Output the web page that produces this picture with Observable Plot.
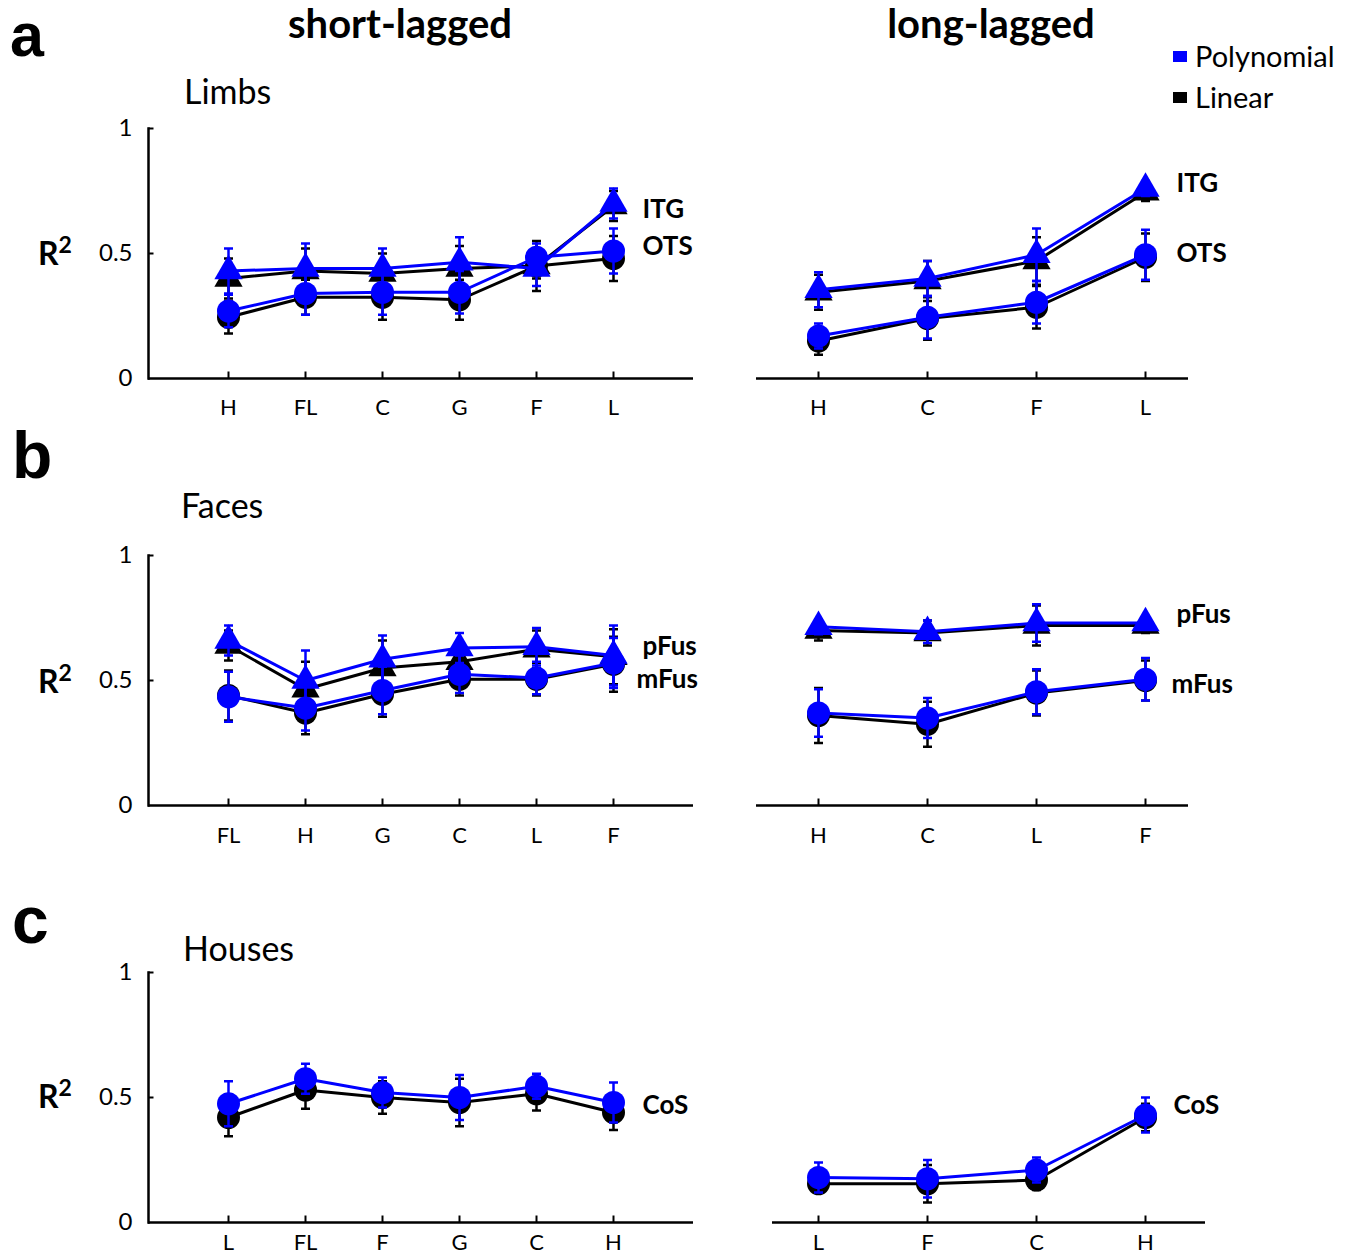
<!DOCTYPE html>
<html><head><meta charset="utf-8">
<script src="https://cdn.jsdelivr.net/npm/d3@7"></script>
<script src="https://cdn.jsdelivr.net/npm/@observablehq/plot@0.6"></script>
<style>
body{margin:0;background:#fff;}
#root{position:relative;width:1348px;height:1257px;overflow:hidden;font-family:Lato,sans-serif;background:#fff;}
#root svg{position:absolute;}
</style></head><body><div id="root"></div>
<script>
// ---------- data ----------
const limbsShortCats = ["H","FL","C","G","F","L"];
const limbsShortITGPoly = [0.43, 0.44, 0.44, 0.465, 0.44, 0.70];
const limbsShortITGPolyErr = [0.09, 0.10, 0.08, 0.10, 0.07, 0.06];
const limbsShortITGLin = [0.40, 0.43, 0.42, 0.44, 0.45, 0.69];
const limbsShortITGLinErr = [0.08, 0.09, 0.08, 0.09, 0.10, 0.06];
const limbsShortOTSPoly = [0.27, 0.34, 0.345, 0.345, 0.485, 0.51];
const limbsShortOTSPolyErr = [0.065, 0.085, 0.09, 0.085, 0.055, 0.09];
const limbsShortOTSLin = [0.245, 0.325, 0.325, 0.315, 0.45, 0.48];
const limbsShortOTSLinErr = [0.065, 0.07, 0.09, 0.08, 0.05, 0.09];

const limbsLongCats = ["H","C","F","L"];
const limbsLongITGPoly = [0.355, 0.40, 0.495, 0.76];
const limbsLongITGPolyErr = [0.07, 0.07, 0.105, 0.03];
const limbsLongITGLin = [0.345, 0.39, 0.47, 0.745];
const limbsLongITGLinErr = [0.07, 0.08, 0.095, 0.035];
const limbsLongOTSPoly = [0.17, 0.245, 0.305, 0.495];
const limbsLongOTSPolyErr = [0.05, 0.085, 0.085, 0.10];
const limbsLongOTSLin = [0.15, 0.24, 0.285, 0.485];
const limbsLongOTSLinErr = [0.055, 0.085, 0.085, 0.095];

const facesShortCats = ["FL","H","G","C","L","F"];
const facesShortPFusPoly = [0.66, 0.50, 0.585, 0.63, 0.635, 0.60];
const facesShortPFusPolyErr = [0.06, 0.12, 0.095, 0.06, 0.075, 0.12];
const facesShortPFusLin = [0.64, 0.465, 0.55, 0.575, 0.625, 0.595];
const facesShortPFusLinErr = [0.06, 0.11, 0.11, 0.05, 0.075, 0.11];
const facesShortMFusPoly = [0.435, 0.39, 0.46, 0.525, 0.51, 0.57];
const facesShortMFusPolyErr = [0.10, 0.09, 0.095, 0.075, 0.065, 0.10];
const facesShortMFusLin = [0.44, 0.37, 0.445, 0.505, 0.505, 0.565];
const facesShortMFusLinErr = [0.10, 0.085, 0.09, 0.065, 0.065, 0.11];

const facesLongCats = ["H","C","L","F"];
const facesLongPFusPoly = [0.715, 0.695, 0.73, 0.73];
const facesLongPFusPolyErr = [0.03, 0.045, 0.075, 0.025];
const facesLongPFusLin = [0.70, 0.69, 0.72, 0.72];
const facesLongPFusLinErr = [0.04, 0.05, 0.08, 0.03];
const facesLongMFusPoly = [0.37, 0.35, 0.455, 0.505];
const facesLongMFusPolyErr = [0.095, 0.08, 0.09, 0.085];
const facesLongMFusLin = [0.36, 0.325, 0.45, 0.50];
const facesLongMFusLinErr = [0.11, 0.09, 0.09, 0.08];

const housesShortCats = ["L","FL","F","G","C","H"];
const housesShortCoSPoly = [0.475, 0.575, 0.52, 0.50, 0.545, 0.48];
const housesShortCoSPolyErr = [0.09, 0.06, 0.06, 0.09, 0.05, 0.08];
const housesShortCoSLin = [0.42, 0.53, 0.50, 0.48, 0.515, 0.44];
const housesShortCoSLinErr = [0.075, 0.075, 0.065, 0.095, 0.067, 0.07];

const housesLongCats = ["L","F","C","H"];
const housesLongCoSPoly = [0.18, 0.175, 0.21, 0.43];
const housesLongCoSPolyErr = [0.06, 0.075, 0.05, 0.07];
const housesLongCoSLin = [0.155, 0.155, 0.17, 0.42];
const housesLongCoSLinErr = [0.03, 0.075, 0.04, 0.055];

const yTicks = [0, 0.5, 1];
const modelNames = ["Polynomial", "Linear"];
const columnTitles = ["short-lagged", "long-lagged"];
const panelLetters = ["a", "b", "c"];
const categoryTitles = ["Limbs", "Faces", "Houses"];

// ---------- styling ----------
const BLUE = "#0000ff", BLACK = "#000000";
const FONT = "Lato, sans-serif";
const root = document.getElementById("root");

const capSym = {draw(ctx, size){ const r = Math.sqrt(size/Math.PI); ctx.moveTo(-r,0); ctx.lineTo(r,0); }};
const upSym = {draw(ctx, size){ const r = Math.sqrt(size/Math.PI); ctx.moveTo(0,0); ctx.lineTo(0,-r); }};
const rightSym = {draw(ctx, size){ const r = Math.sqrt(size/Math.PI); ctx.moveTo(0,0); ctx.lineTo(r,0); }};

function rows(cats, vals, errs){ return cats.map((c,i)=>({cat:c, v:vals[i], e:errs[i]})); }

function seriesMarks(data, color, shape){
  const r = shape === "triangle" ? 10.5 : 11.5;
  return [
    Plot.ruleX(data, {x:"cat", y1:d=>d.v-d.e, y2:d=>d.v+d.e, stroke:color, strokeWidth:2.5}),
    Plot.dot(data, {x:"cat", y:d=>d.v+d.e, symbol:capSym, r:4.5, stroke:color, strokeWidth:2.5, fill:"none"}),
    Plot.dot(data, {x:"cat", y:d=>d.v-d.e, symbol:capSym, r:4.5, stroke:color, strokeWidth:2.5, fill:"none"}),
    Plot.line(data, {x:"cat", y:"v", stroke:color, strokeWidth:3}),
    Plot.dot(data, {x:"cat", y:"v", symbol:shape, r, fill:color, stroke:"none"})
  ];
}

function panel(cfg){
  const {cats, regions, left, top, width, height, mL, mR, mB, inL, inR, pad, yAxis, labelPad, labelDx} = cfg;
  const marks = [];
  for (const reg of regions) marks.push(...seriesMarks(rows(cats, reg.lin, reg.linErr), BLACK, reg.shape));
  for (const reg of regions) marks.push(...seriesMarks(rows(cats, reg.poly, reg.polyErr), BLUE, reg.shape));
  for (const reg of regions) {
    const last = cats.length - 1;
    marks.push(Plot.text([{cat:cats[last], v:reg.poly[last]}], {x:"cat", y:"v", text:()=>reg.name, dx:labelDx + (reg.ldx||0), dy:reg.ldy, textAnchor:"start", fontSize:26, fontWeight:"bold", fill:BLACK}));
  }
  marks.push(Plot.ruleY([0], {stroke:BLACK, strokeWidth:2.5}));
  marks.push(Plot.dot(cats, {x:d=>d, frameAnchor:"bottom", symbol:upSym, r:7, stroke:BLACK, strokeWidth:2}));
  marks.push(Plot.axisX({tickSize:0, tickPadding:labelPad, fontSize:22}));
  if (yAxis) {
    marks.push(Plot.frame({anchor:"left", stroke:BLACK, strokeWidth:2.5}));
    marks.push(Plot.dot([0.5, 1], {y:d=>d, frameAnchor:"left", symbol:rightSym, r:5, stroke:BLACK, strokeWidth:2}));
    marks.push(Plot.axisY({ticks:yTicks, tickSize:0, tickPadding:16, fontSize:24, tickFormat:d=>String(d)}));
  }
  const svg = Plot.plot({
    width, height, marginLeft:mL, marginRight:mR, marginTop:20, marginBottom:mB,
    style:{background:"transparent", overflow:"visible", fontFamily:FONT, fontSize:"22px", color:"#000"},
    x:{type:"point", domain:cats, padding:pad, insetLeft:inL, insetRight:inR, label:null},
    y:{domain:[0,1], label:null, axis:null},
    marks
  });
  svg.style.left = left + "px";
  svg.style.top = top + "px";
  root.appendChild(svg);
}

// ---------- text overlay ----------
const ov = d3.select(root).append("svg").attr("width",1348).attr("height",1257).style("left","0px").style("top","0px")
  .attr("font-family", FONT);
[[10,56,61],[12,478,66],[12,943,66]].forEach(([x,y,s],i)=> ov.append("text").attr("x",x).attr("y",y)
  .attr("font-family","'Liberation Sans', Arial, sans-serif").attr("font-size",s).attr("font-weight","bold").text(panelLetters[i]));
[[400,38],[991,38]].forEach(([x,y],i)=> ov.append("text").attr("x",x).attr("y",y).attr("text-anchor","middle").attr("font-size",40).attr("font-weight","bold").text(columnTitles[i]));
[[184,104],[181,518],[183,961]].forEach(([x,y],i)=> ov.append("text").attr("x",x).attr("y",y).attr("font-size",34).text(categoryTitles[i]));
[265,693,1108].forEach(y=>{
  const t = ov.append("text").attr("x",38).attr("y",y).attr("font-size",32).attr("font-weight","bold");
  t.append("tspan").text("R");
  t.append("tspan").attr("dy",-12).attr("font-size",23).text("2");
});
[[BLUE,51,67],[BLACK,92,108]].forEach(([c,ry,ty],i)=>{
  ov.append("rect").attr("x",1173).attr("y",ry).attr("width",14).attr("height",11).attr("fill",c);
  ov.append("text").attr("x",1195).attr("y",ty).attr("font-size",29).text(modelNames[i]);
});

// ---------- panels ----------
const L = {left:0, width:740, mL:148, mR:47, inL:0, inR:0, pad:1, yAxis:true, labelDx:29};
const R = {left:740, width:608, mL:16, mR:160, inL:62, inR:43, pad:0, yAxis:false, labelDx:31};

panel({...L, cats:limbsShortCats, top:108, height:320, mB:50, labelPad:21, regions:[
  {name:"ITG", shape:"triangle", poly:limbsShortITGPoly, polyErr:limbsShortITGPolyErr, lin:limbsShortITGLin, linErr:limbsShortITGLinErr, ldy:6},
  {name:"OTS", shape:"circle", poly:limbsShortOTSPoly, polyErr:limbsShortOTSPolyErr, lin:limbsShortOTSLin, linErr:limbsShortOTSLinErr, ldy:-4}]});
panel({...R, cats:limbsLongCats, top:108, height:320, mB:50, labelPad:21, regions:[
  {name:"ITG", shape:"triangle", poly:limbsLongITGPoly, polyErr:limbsLongITGPolyErr, lin:limbsLongITGLin, linErr:limbsLongITGLinErr, ldy:-5},
  {name:"OTS", shape:"circle", poly:limbsLongOTSPoly, polyErr:limbsLongOTSPolyErr, lin:limbsLongOTSLin, linErr:limbsLongOTSLinErr, ldy:-1}]});
panel({...L, cats:facesShortCats, top:535, height:320, mB:50, labelPad:22, regions:[
  {name:"pFus", shape:"triangle", poly:facesShortPFusPoly, polyErr:facesShortPFusPolyErr, lin:facesShortPFusLin, linErr:facesShortPFusLinErr, ldy:-9},
  {name:"mFus", shape:"circle", poly:facesShortMFusPoly, polyErr:facesShortMFusPolyErr, lin:facesShortMFusLin, linErr:facesShortMFusLinErr, ldy:17, ldx:-6}]});
panel({...R, cats:facesLongCats, top:535, height:320, mB:50, labelPad:22, regions:[
  {name:"pFus", shape:"triangle", poly:facesLongPFusPoly, polyErr:facesLongPFusPolyErr, lin:facesLongPFusLin, linErr:facesLongPFusLinErr, ldy:-8},
  {name:"mFus", shape:"circle", poly:facesLongMFusPoly, polyErr:facesLongMFusPolyErr, lin:facesLongMFusLin, linErr:facesLongMFusLinErr, ldy:5, ldx:-5}]});
panel({...L, cats:housesShortCats, top:952, height:305, mB:35, labelPad:12, regions:[
  {name:"CoS", shape:"circle", poly:housesShortCoSPoly, polyErr:housesShortCoSPolyErr, lin:housesShortCoSLin, linErr:housesShortCoSLinErr, ldy:3}]});
panel({...R, cats:housesLongCats, top:952, height:305, mB:35, mL:32, mR:143, inL:46, inR:60, labelPad:12, labelDx:28, regions:[
  {name:"CoS", shape:"circle", poly:housesLongCoSPoly, polyErr:housesLongCoSPolyErr, lin:housesLongCoSLin, linErr:housesLongCoSLinErr, ldy:-9}]});
</script></body></html>
